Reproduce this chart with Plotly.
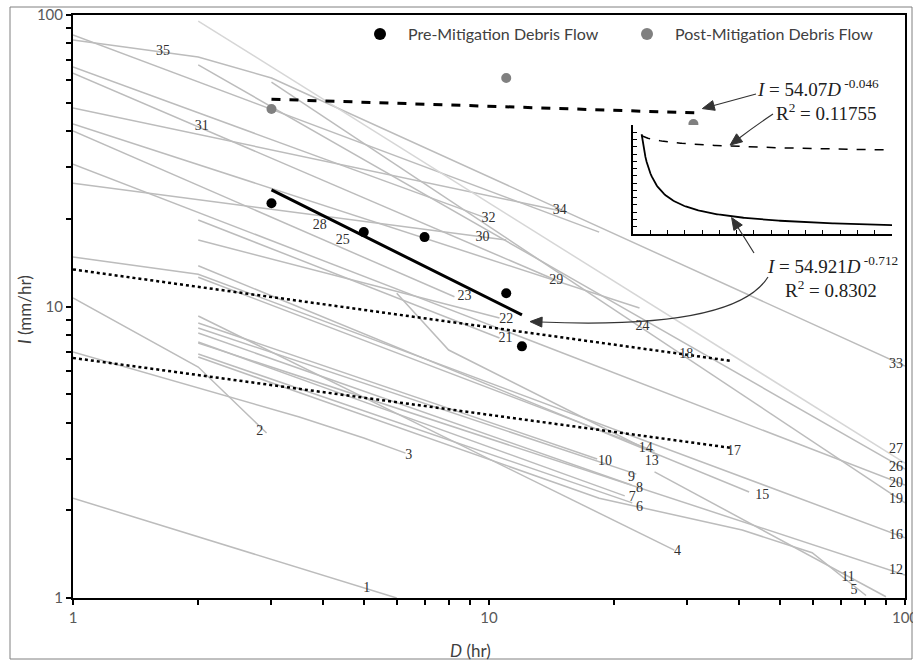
import numpy as np
import plotly.graph_objects as go

# ---------------- data ----------------
# published rainfall thresholds (gray lines): durations D (hr) and intensities I (mm/hr)
g01 = ([1, 6.0], [2.2, 1.0])
g02 = ([1, 2, 2.92], [10.7, 6.2, 3.68])
g03 = ([1, 3.5, 5.0, 6.3], [6.98, 4.18, 3.54, 3.14])
g04 = ([2, 27.9], [9.28, 1.46])
g05 = ([2, 18.4, 40.6, 59.8, 80.6], [6.71, 2.20, 1.71, 1.43, 1.02])
g06 = ([2, 22.1], [6.87, 2.12])
g07 = ([2, 21.2], [7.55, 2.24])
g08 = ([2, 22.0], [8.11, 2.44])
g09 = ([2, 22.6], [8.44, 2.66])
g10 = ([2, 18.2], [8.78, 3.0])
g11 = ([25, 90], [2.71, 1.01])
g12 = ([2, 100], [7.49, 1.20])
g13 = ([6, 8, 25.7], [11.1, 7.09, 3.07])
g14 = ([2, 25], [12.6, 3.19])
g15 = ([2, 42.2], [13.8, 2.31])
g16 = ([1, 2, 100], [14.8, 12.9, 1.61])
g19 = ([3, 100], [58.9, 2.12])
g20 = ([1, 100], [30.8, 2.44])
g21 = ([2, 10.6], [19.8, 7.8])
g22 = ([2, 10.6], [16.9, 9.13])
g23 = ([1, 8.26], [40.0, 10.8])
g24 = ([1, 23.0], [42.3, 9.88])
g26 = ([2, 100], [67.4, 2.77])
g29 = ([1, 14.5], [63.2, 12.3])
g30 = ([1, 11], [26.5, 16.9])
g32 = ([1, 9.86], [66.3, 20.1])
g33 = ([1, 2, 3, 100], [82.1, 71.8, 60.8, 6.25])
g34 = ([1, 14.8], [48.0, 21.3])
g35 = ([1, 18.4], [85.4, 18.0])
g27_light = ([2, 100], [95.3, 2.90])

gray_lines = [g01, g02, g03, g04, g05, g06, g07, g08, g09, g10, g11, g12, g13, g14,
              g15, g16, g19, g20, g21, g22, g23, g24, g26, g29, g30, g32, g33, g34, g35]

# dotted thresholds (17, 18)
dot17 = ([1, 38.4], [6.66, 3.27])
dot18 = ([1, 38.4], [13.4, 6.5])

# threshold numbers
label_text = [str(i) for i in range(1, 36)]
label_D = [5.08, 2.81, 6.41, 28.4, 75.4, 23.0, 22.1, 23.0, 22.0, 19.0, 73.0, 95.1, 24.6, 23.8,
           45.4, 95.1, 38.8, 29.8, 95.1, 95.1, 10.96, 11.0, 8.73, 23.4, 4.45, 95.1, 95.1, 3.92,
           14.5, 9.65, 2.04, 9.97, 95.1, 14.8, 1.645]
label_I = [1.08, 3.74, 3.09, 1.44, 1.057, 2.04, 2.22, 2.38, 2.60, 2.93, 1.18, 1.24, 2.95, 3.27,
           2.24, 1.64, 3.19, 6.87, 2.17, 2.47, 7.74, 8.99, 10.8, 8.51, 16.8, 2.80, 3.22, 19.0,
           12.3, 17.2, 41.6, 20.1, 6.30, 21.3, 74.7]

# observed debris flows
pre_D = [3, 5, 7, 11, 12]
pre_I = [22.6, 18.0, 17.3, 11.1, 7.3]
post_D = [3, 11, 31]
post_I = [47.6, 60.8, 42.3]

# power-law fits  I = a * D^b
pre_a, pre_b = 54.921, -0.712
post_a, post_b = 54.07, -0.046
pre_fit_D = np.geomspace(3, 12, 40)
post_fit_D = np.geomspace(3, 31.4, 40)
inset_D = np.linspace(1, 30, 200)

# axis ticks
tick_vals = [1, 2, 3, 4, 5, 6, 7, 8, 9, 10, 20, 30, 40, 50, 60, 70, 80, 90, 100]
tick_text = ['1', '', '', '', '', '', '', '', '', '10', '', '', '', '', '', '', '', '', '100']

# ---------------- figure ----------------
W, H = 913, 661
L, R, T, B = 73, 8, 15, 63
pw, ph = W - L - R, H - T - B


def px(x):
    return (x - L) / pw


def py(y):
    return (H - B - y) / ph


fig = go.Figure()

for D, I in gray_lines:
    fig.add_trace(go.Scatter(x=D, y=I, mode='lines', line=dict(color='#bcbcbc', width=1.5),
                             showlegend=False, hoverinfo='skip'))
fig.add_trace(go.Scatter(x=g27_light[0], y=g27_light[1], mode='lines',
                         line=dict(color='#d6d6d6', width=1.5), showlegend=False, hoverinfo='skip'))

for D, I in (dot17, dot18):
    fig.add_trace(go.Scatter(x=D, y=I, mode='lines', line=dict(color='black', width=2.5, dash='dot'),
                             showlegend=False, hoverinfo='skip'))

fig.add_trace(go.Scatter(x=pre_fit_D, y=pre_a * pre_fit_D ** pre_b, mode='lines',
                         line=dict(color='black', width=3), showlegend=False, hoverinfo='skip'))
fig.add_trace(go.Scatter(x=post_fit_D, y=post_a * post_fit_D ** post_b, mode='lines',
                         line=dict(color='black', width=3, dash='dash'), showlegend=False,
                         hoverinfo='skip'))

fig.add_trace(go.Scatter(x=label_D, y=label_I, mode='text', text=label_text, cliponaxis=False,
                         textfont=dict(family='Liberation Serif', size=14, color='#303030'),
                         showlegend=False, hoverinfo='skip'))

fig.add_trace(go.Scatter(x=pre_D, y=pre_I, mode='markers', name='\u2002Pre-Mitigation Debris Flow',
                         marker=dict(color='black', size=10)))
fig.add_trace(go.Scatter(x=post_D, y=post_I, mode='markers', name='\u2002Post-Mitigation Debris Flow',
                         marker=dict(color='#808080', size=10)))

# inset
fig.add_trace(go.Scatter(x=inset_D, y=post_a * inset_D ** post_b, mode='lines', xaxis='x2', yaxis='y2',
                         line=dict(color='black', width=1.5, dash='dash'), showlegend=False,
                         hoverinfo='skip'))
fig.add_trace(go.Scatter(x=inset_D, y=pre_a * inset_D ** pre_b, mode='lines', xaxis='x2', yaxis='y2',
                         line=dict(color='black', width=1.8), showlegend=False, hoverinfo='skip'))

axis_font = dict(family='Lato', size=15, color='#595959')
fig.update_layout(
    width=W, height=H,
    margin=dict(l=L, r=R, t=T, b=B, autoexpand=False),
    paper_bgcolor='white', plot_bgcolor='white',
    xaxis=dict(type='log', range=[0, 2], showgrid=False, zeroline=False, showline=True,
               linecolor='black', linewidth=2, mirror=True, ticks='outside', ticklen=5,
               tickcolor='black', tickwidth=1.5, tickvals=tick_vals, ticktext=tick_text,
               tickfont=axis_font, automargin=False, ticklabeloverflow='allow'),
    yaxis=dict(type='log', range=[0, 2], showgrid=False, zeroline=False, showline=True,
               linecolor='black', linewidth=2, mirror=True, ticks='outside', ticklen=5,
               tickcolor='black', tickwidth=1.5, tickvals=tick_vals, ticktext=tick_text,
               tickfont=axis_font, automargin=False, ticklabeloverflow='allow'),
    xaxis2=dict(domain=[px(633), px(892)], anchor='y2', range=[0, 30], dtick=2, ticks='inside',
                ticklen=4, tickcolor='black', showticklabels=False, showgrid=False, zeroline=False,
                showline=True, linecolor='black', linewidth=2),
    yaxis2=dict(domain=[py(234), py(125)], anchor='x2', range=[0, 60], dtick=4, ticks='inside',
                ticklen=4, tickcolor='black', showticklabels=False, showgrid=False, zeroline=False,
                showline=True, linecolor='black', linewidth=2),
    legend=dict(orientation='h', x=px(360), y=py(34), xanchor='left', yanchor='middle',
                font=dict(family='Lato', size=16, color='#404040'), bgcolor='rgba(0,0,0,0)',
                itemsizing='constant', entrywidth=222, entrywidthmode='pixels'),
    showlegend=True,
)

serif = 'Liberation Serif'
annos = [
    dict(text='<i>I</i> (mm/hr)', x=px(24), y=py(310), textangle=-90,
         font=dict(family='Lato', size=17, color='#404040')),
    dict(text='<i>D</i> (hr)', x=px(470), y=py(650), font=dict(family='Lato', size=17, color='#404040')),
    dict(text='<i>I</i> = 54.07<i>D</i><sup> -0.046</sup>', x=px(818), y=py(88),
         font=dict(family=serif, size=19, color='#202020')),
    dict(text='R<sup>2</sup> = 0.11755', x=px(826), y=py(112), font=dict(family=serif, size=19, color='#202020')),
    dict(text='<i>I</i> = 54.921<i>D</i><sup> -0.712</sup>', x=px(832), y=py(265),
         font=dict(family=serif, size=19, color='#202020')),
    dict(text='R<sup>2</sup> = 0.8302', x=px(831), y=py(289), font=dict(family=serif, size=19, color='#202020')),
]
for a in annos:
    a.update(xref='paper', yref='paper', showarrow=False, xanchor='center', yanchor='middle')
fig.update_layout(annotations=annos)

# callout arrows (page pixels): tail -> tip, drawn as shapes
arrow_color = '#333333'
shapes = [
    dict(type='rect', xref='paper', yref='paper', x0=px(10), x1=px(912), y0=py(659), y1=py(7),
         line=dict(color='#808080', width=1), layer='below'),
]
arrows = [
    ((756, 94), (738, 99), (712, 106)),     # tail, control, tip (quadratic)
    ((773, 114), (755, 126), (738, 139)),
    ((754, 253), (746, 240), (737, 226)),
    ((768, 277), (735, 330), (540, 322)),
]
for (sx, sy), (cx, cy), (tx, ty) in arrows:
    shapes.append(dict(type='path', xref='paper', yref='paper',
                       path=f'M {px(sx)},{py(sy)} Q {px(cx)},{py(cy)} {px(tx)},{py(ty)}',
                       line=dict(color=arrow_color, width=1.2)))
    ux, uy = tx - cx, ty - cy
    n = (ux ** 2 + uy ** 2) ** 0.5
    ux, uy = ux / n, uy / n
    hx, hy = tx + 10 * ux, ty + 10 * uy          # arrow point beyond line end
    bx, by = hx - 12 * ux, hy - 12 * uy
    p1 = (bx - 5 * uy, by + 5 * ux)
    p2 = (bx + 5 * uy, by - 5 * ux)
    shapes.append(dict(type='path', xref='paper', yref='paper',
                       path=(f'M {px(hx)},{py(hy)} L {px(p1[0])},{py(p1[1])} '
                             f'L {px(p2[0])},{py(p2[1])} Z'),
                       fillcolor=arrow_color, line=dict(color=arrow_color, width=1)))
fig.update_layout(shapes=shapes)

fig.write_html('out.html', config={'displayModeBar': False},
               post_script="document.body.style.margin='0';document.body.style.overflow='hidden';")
